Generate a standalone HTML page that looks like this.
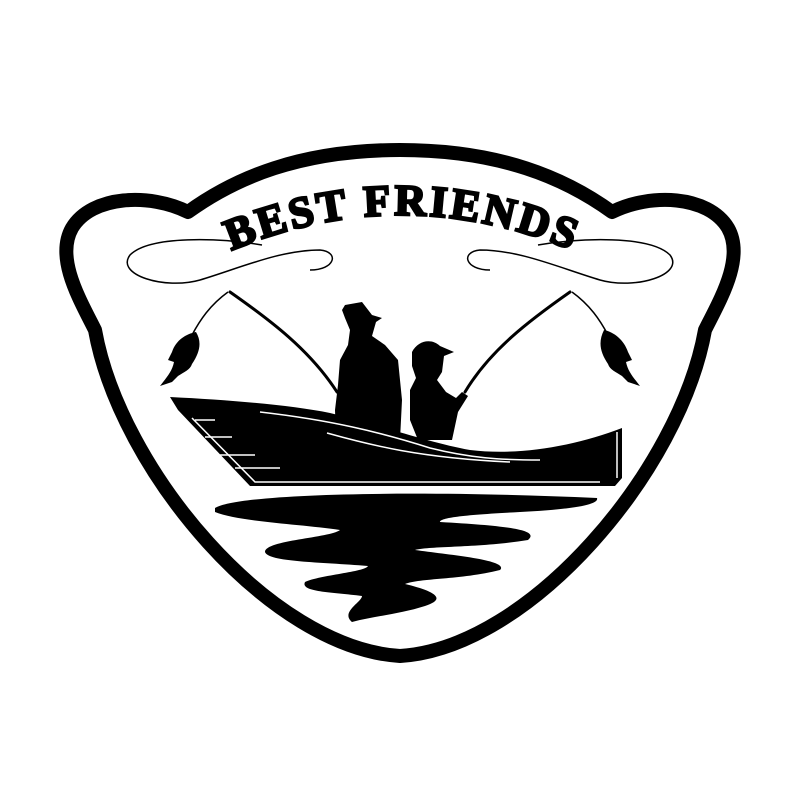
<!DOCTYPE html>
<html><head><style>html,body{margin:0;padding:0;background:#fff}svg{display:block}</style></head>
<body>
<svg width="800" height="800" viewBox="0 0 800 800" xmlns="http://www.w3.org/2000/svg">
<rect width="800" height="800" fill="#fff"/>
<path d="M400,150 C300,150 235,178 188,212 C150,193 92,195 72,228 C55,258 80,300 95,330 C120,470 270,648 400,656 C530,648 680,470 705,330 C720,300 745,258 728,228 C708,195 650,193 612,212 C565,178 500,150 400,150 Z" fill="none" stroke="#000" stroke-width="14" stroke-linejoin="round"/>
<defs><path id="arc" d="M200,265 Q400,165 605,265"/></defs>
<text font-family="'Liberation Serif',serif" font-weight="bold" font-size="44" letter-spacing="3" fill="#000" stroke="#000" stroke-width="2.5"><textPath href="#arc" startOffset="50%" text-anchor="middle">BEST FRIENDS</textPath></text>
<g fill="none" stroke="#000" stroke-width="1.5">
<path d="M262,245 C220,238 150,235 130,255 C115,275 165,290 200,280 C240,268 280,250 320,250 C340,252 335,270 310,270"/>
<path d="M538,245 C580,238 650,235 670,255 C685,275 635,290 600,280 C560,268 520,250 480,250 C460,252 465,270 490,270"/>
<path d="M228,292 C210,305 200,320 192,335"/>
<path d="M572,292 C590,305 600,320 608,335"/>
</g>
<g stroke="#000" stroke-width="3" fill="none" stroke-linecap="round">
<path d="M230,292 C270,320 310,350 337,392"/>
<path d="M570,292 C530,320 490,350 465,392"/>
</g>
<path d="M196,332 C186,334 176,340 172,352 L168,360 L174,362 C172,372 166,378 160,386 L172,382 L178,376 C184,372 190,370 192,364 C200,352 202,342 196,332 Z" fill="#000"/>
<path d="M604,330 C614,332 624,340 628,352 L632,360 L626,362 C628,372 634,378 640,386 L628,382 L622,376 C616,372 610,370 608,364 C600,352 598,342 604,330 Z" fill="#000"/>
<path d="M345,305 L362,302 L372,315 L382,318 L376,322 L372,336 L385,345 L398,360 L402,400 L400,440 L336,440 L335,410 L338,385 L340,360 L348,345 L350,330 L345,318 L342,310 Z" fill="#000"/>
<path d="M412,352 C418,340 432,338 440,346 L454,352 L444,356 L442,372 L437,380 L446,392 L456,398 L462,392 L468,396 L458,412 L452,440 L418,440 L410,420 L410,390 L416,378 L412,366 Z" fill="#000"/>
<path d="M170,397 C230,400 290,405 330,413 C380,425 430,443 470,450 C520,456 575,446 622,428 L622,478 L615,486 L250,486 L178,410 Z" fill="#000"/>
<g stroke="#fff" stroke-width="1.5" fill="none">
<path d="M260,412 C330,420 380,432 430,448 C470,458 500,460 540,460"/>
<path d="M327,433 C370,445 420,458 510,462"/>
<path d="M192,418 L255,482 L600,482"/>
<path d="M195,420 L215,420 M205,437 L232,437 M220,455 L255,455 M235,468 L280,468"/>
<path d="M617,432 L617,478"/>
</g>
<path fill="#000" d="M215,508 C240,493 420,490 597,498 C600,506 560,510 520,512 C460,515 440,518 440,522 C510,526 540,530 528,540 C480,548 430,546 415,550 C450,555 510,560 500,570 C460,580 420,578 405,584 C430,590 450,598 425,606 C400,614 375,616 352,622 C340,612 362,602 362,596 C330,592 300,592 305,582 C320,575 365,572 368,566 C320,562 268,562 265,552 C265,540 330,538 340,530 C300,524 240,522 215,512 Z"/>
</svg>
</body></html>
